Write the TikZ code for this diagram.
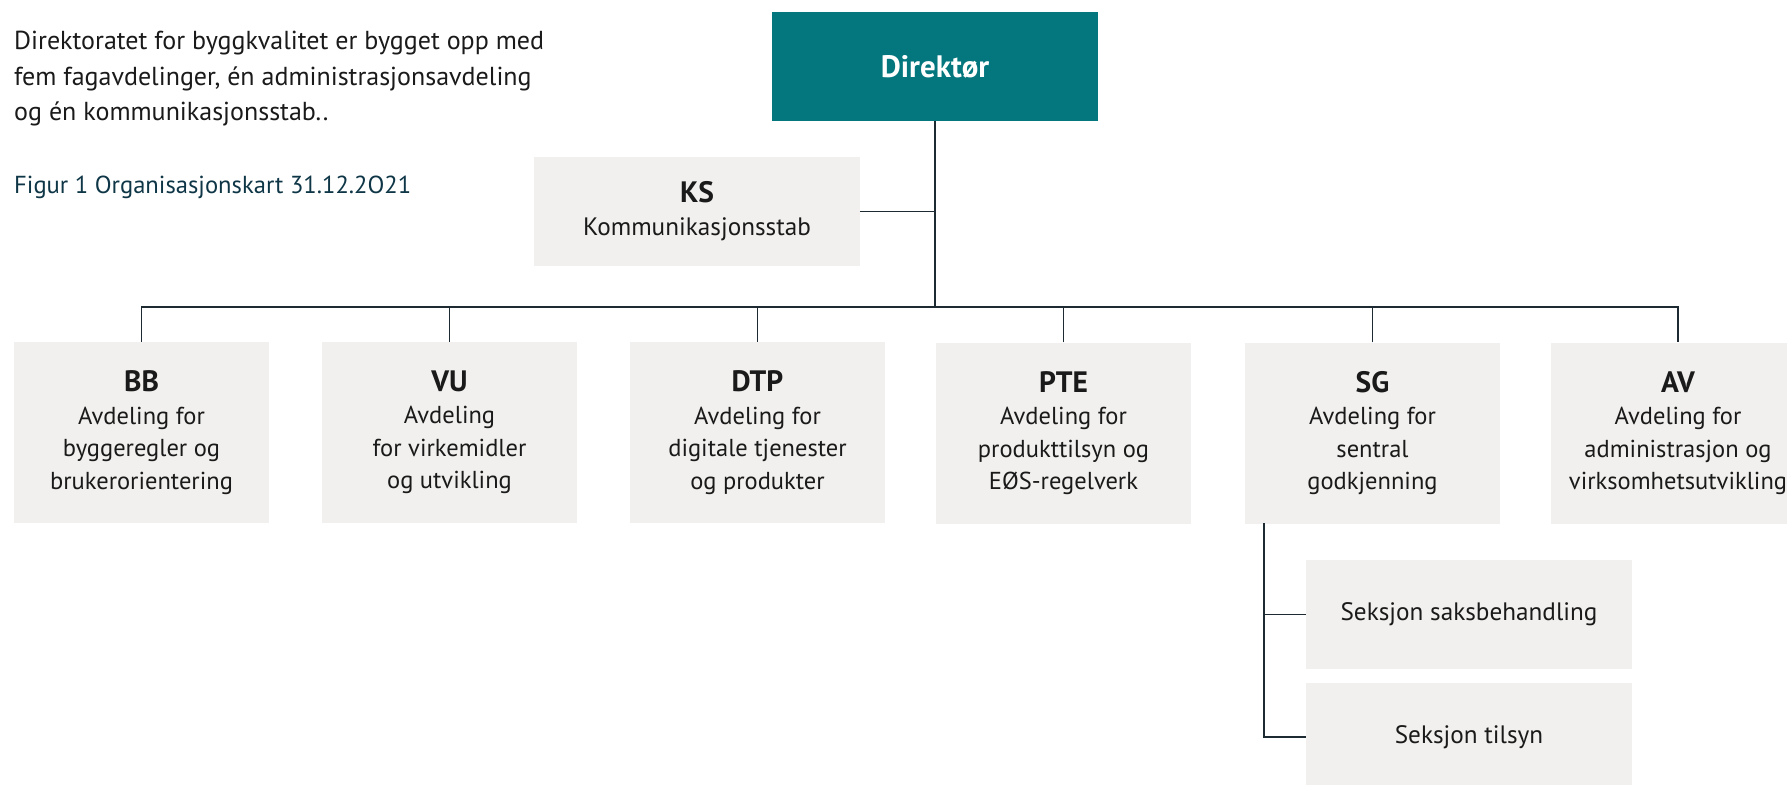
\documentclass[tikz,border=0pt]{standalone}
\usepackage{fontspec}
\setmainfont{PT Sans}
\definecolor{teal1}{HTML}{03767E}
\definecolor{boxgray}{HTML}{F1F0EE}
\definecolor{txt}{HTML}{1A1A1A}
\definecolor{figblue}{HTML}{0E3646}
\definecolor{linec}{HTML}{1E2A32}
\newcommand{\hdr}[1]{{\bfseries\fontsize{29.5}{32.5}\selectfont #1}}
\begin{document}
\begin{tikzpicture}[x=1pt,y=-1pt,
  box/.style={fill=boxgray, draw=none, inner sep=0pt, align=center, text=txt,
    font=\fontsize{24.5}{32.5}\selectfont},
  dept/.style={box, minimum width=255pt, minimum height=181pt},
  wide/.style={box, minimum width=326pt, minimum height=109pt},
  sek/.style={wide, font=\fontsize{25.2}{32.5}\selectfont},
  conn/.style={draw=linec, line width=1.4pt},
  para/.style={anchor=base west, inner sep=0pt, text=txt, font=\fontsize{26}{35}\selectfont}]
\useasboundingbox (0,0) rectangle (1787,784);

% intro text
\node[para] (p1) at (14,49) {Direktoratet for byggkvalitet er bygget opp med};
\node[para] (p2) at (14,85) {fem fagavdelinger, én administrasjonsavdeling};
\node[para] (p3) at (14,120) {og én kommunikasjonsstab..};
\node[para, text=figblue, font=\fontsize{24.6}{30}\selectfont] (fig) at (14,193) {Figur 1 Organisasjonskart 31.12.2O21};

% boxes
\node[wide, fill=teal1, text=white, font=\bfseries\fontsize{31}{32}\selectfont] (dir) at (935,66.5) {Direktør};
\node[wide, font=\fontsize{25.2}{33}\selectfont] (ks) at (697,211.5) {\hdr{KS}\\Kommunikasjonsstab};

\node[dept] (bb)  at (141.5,432.5) {\hdr{BB}\\Avdeling for\\byggeregler og\\brukerorientering};
\node[dept] (vu)  at (449.5,432.5) {\hdr{VU}\\Avdeling\\for virkemidler\\og utvikling};
\node[dept] (dtp) at (757.5,432.5) {\hdr{DTP}\\Avdeling for\\digitale tjenester\\og produkter};
\node[dept] (pte) at (1063.5,433) {\hdr{PTE}\\Avdeling for\\produkttilsyn og\\EØS-regelverk};
\node[dept] (sg)  at (1372.5,433) {\hdr{SG}\\Avdeling for\\sentral\\godkjenning};
\node[dept] (av)  at (1678,433) {\hdr{AV}\\Avdeling for\\administrasjon og\\virksomhetsutvikling};

\node[sek] (s1) at (1469,614.5) {Seksjon saksbehandling};
\node[sek] (s2) at (1469,737) {Seksjon tilsyn};

% connectors
\coordinate (bus) at (0,307);
\coordinate (sgd) at (1264,523);
\draw[conn] (dir.south) -- (dir.south |- bus);
\draw[conn] (ks.east) -- (ks.east -| dir.south);
\draw[conn] (bb.north) -- (bb.north |- bus) -- (av.north |- bus) -- (av.north);
\draw[conn] (vu.north) -- (vu.north |- bus);
\draw[conn] (dtp.north) -- (dtp.north |- bus);
\draw[conn] (pte.north) -- (pte.north |- bus);
\draw[conn] (sg.north) -- (sg.north |- bus);
\draw[conn] (sgd) |- (s1.west);
\draw[conn] (sgd) |- (s2.west);
\end{tikzpicture}
\end{document}
